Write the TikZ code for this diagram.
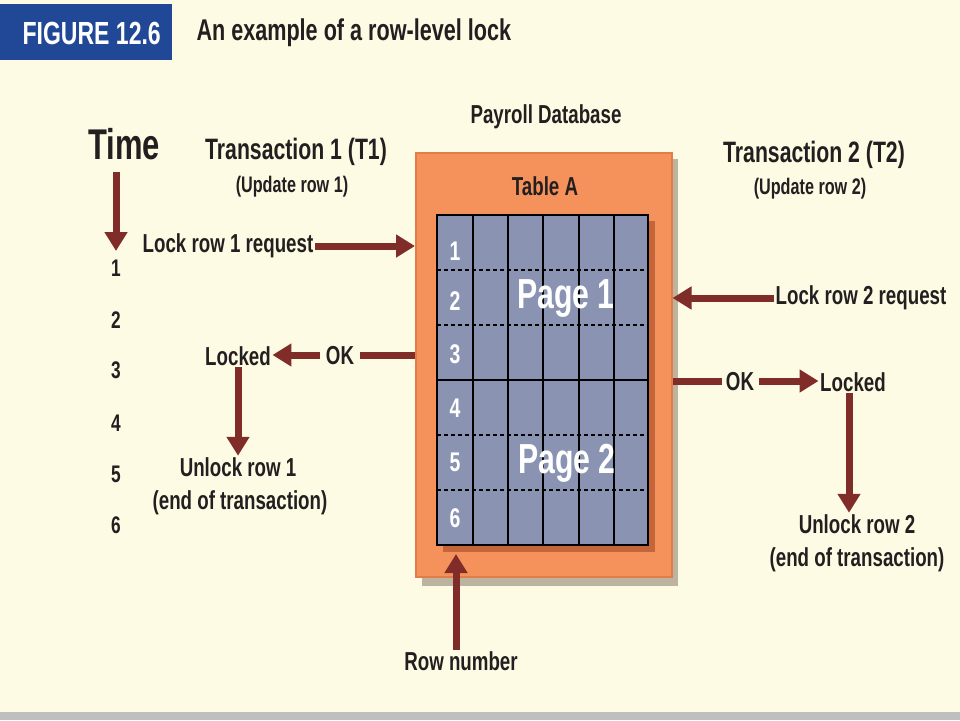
\documentclass[tikz,border=0pt]{standalone}
\usepackage{fontspec}
\setmainfont{Liberation Sans}[FakeStretch=0.72]
\usetikzlibrary{arrows.meta}
\definecolor{cream}{RGB}{254,251,228}
\definecolor{ink}{RGB}{35,31,32}
\definecolor{arrowred}{RGB}{128,44,40}
\definecolor{figblue}{RGB}{32,72,150}
\definecolor{dborange}{RGB}{245,146,92}
\definecolor{dbedge}{RGB}{228,124,72}
\definecolor{dbshadow}{RGB}{188,180,158}
\definecolor{gridfill}{RGB}{138,148,178}
\definecolor{gridshadow}{RGB}{196,102,58}
\tikzset{
  txt/.style={font=\bfseries\fontsize{26}{28}\selectfont, text=ink, inner sep=1.5pt},
  small/.style={font=\bfseries\fontsize{22.5}{24}\selectfont, text=ink, inner sep=1.5pt},
  tnum/.style={font=\bfseries\fontsize{24}{26}\selectfont, text=ink, inner sep=1pt},
  rnum/.style={font=\bfseries\fontsize{27}{29}\selectfont, text=white, inner sep=1pt},
  pagelbl/.style={font=\bfseries\fontsize{42}{45}\selectfont, text=white, inner sep=1pt},
  arr/.style={draw=arrowred, line width=7pt, -{Triangle[length=19pt,width=22pt]}},
  bar/.style={draw=arrowred, line width=7pt},
  dotline/.style={draw=black, line width=2pt, dash pattern=on 4pt off 3pt},
}
\begin{document}
\begin{tikzpicture}[x=1pt,y=-1pt]
\useasboundingbox (0,0) rectangle (960,720);
\fill[cream] (0,0) rectangle (960,720);
\fill[black!25] (0,712) rectangle (960,720);
% title band
\fill[figblue] (0,4) rectangle (172,60);
\node[font=\bfseries\fontsize{32}{34}\selectfont, text=white, anchor=west] (fig) at (19,33) {FIGURE 12.6};
\node[font=\bfseries\fontsize{30}{32}\selectfont, text=ink, anchor=west] (title) at (193,33) {An example of a row-level lock};
% database box
\fill[dbshadow] (422,159) rectangle (678,586);
\node[draw=dbedge, line width=1.5pt, fill=dborange, minimum width=256pt, minimum height=424pt, inner sep=0pt, anchor=north west] (db) at (415,152) {};
\node[txt] (payroll) at (546,117) {Payroll Database};
\node[txt] (tablea) at (545,186) {Table A};
% grid
\fill[gridshadow] (443,221) rectangle (655,552);
\fill[gridfill] (437,215) rectangle (648,545);
\foreach \x in {473,508,543,579,614} \draw[black, line width=1.6pt] (\x,215) -- (\x,545);
\foreach \y in {270,325,435,490} \draw[dotline] (437,\y) -- (648,\y);
\draw[black, line width=2.5pt] (437,380) -- (648,380);
\draw[black, line width=2.5pt] (437,215) rectangle (648,545);
\node[rnum] (r1) at (455,251) {1};
\node[rnum] (r2) at (455,301) {2};
\node[rnum] (r3) at (455,354) {3};
\node[rnum] (r4) at (455,408) {4};
\node[rnum] (r5) at (455,462) {5};
\node[rnum] (r6) at (455,518) {6};
\node[pagelbl] (p1) at (566,298) {Page 1};
\node[pagelbl] (p2) at (567,463) {Page 2};
% time axis
\node[font=\bfseries\fontsize{43}{46}\selectfont, text=ink, inner sep=1pt] (time) at (124,144) {Time};
\coordinate (tend) at (116,251);
\draw[arr] (116,172) -- (tend);
\node[tnum] (t1) at (116,268) {1};
\node[tnum] (t2) at (116,320) {2};
\node[tnum] (t3) at (116,370) {3};
\node[tnum] (t4) at (116,423) {4};
\node[tnum] (t5) at (116,474) {5};
\node[tnum] (t6) at (116,525) {6};
% transaction 1
\node[txt, font=\bfseries\fontsize{29.5}{31}\selectfont] (tr1) at (296,152) {Transaction 1 (T1)};
\node[small] (up1) at (292,187) {(Update row 1)};
\node[txt, anchor=west] (lr1) at (141,246) {Lock row 1 request};
\draw[arr] (lr1.east) -- (lr1.east -| db.west);
\node[txt] (ok1) at (340,356) {OK};
\node[txt] (locked1) at (238,356) {Locked};
\draw[bar, shorten <=4pt] (ok1.east |- 0,355) -- (db.west |- 0,355);
\draw[arr, shorten <=4pt] (ok1.west |- 0,355) -- (locked1.east |- 0,355);
\node[txt] (unlock1) at (238,467) {Unlock row 1};
\node[txt] (end1) at (240,503) {(end of transaction)};
\draw[arr] (locked1.south) -- (unlock1.north);
% transaction 2
\node[txt, font=\bfseries\fontsize{29.5}{31}\selectfont] (tr2) at (814,155) {Transaction 2 (T2)};
\node[small] (up2) at (810,189) {(Update row 2)};
\node[txt, anchor=west] (lr2) at (774,298) {Lock row 2 request};
\draw[arr] (lr2.west) -- (lr2.west -| db.east);
\node[txt] (ok2) at (740,382) {OK};
\node[txt] (locked2) at (853,382) {Locked};
\draw[bar, shorten >=2pt] (db.east |- 0,381) -- (ok2.west |- 0,381);
\draw[arr, shorten <=3pt] (ok2.east |- 0,381) -- (locked2.west |- 0,381);
\node[txt] (unlock2) at (857,524) {Unlock row 2};
\node[txt] (end2) at (857,560) {(end of transaction)};
\draw[arr] (locked2.south -| 849,0) -- (unlock2.north -| 849,0);
% row number
\node[txt] (rownum) at (461,661) {Row number};
\coordinate (rntip) at (456,554);
\draw[arr] (rownum.north -| rntip) -- (rntip);
\end{tikzpicture}
\end{document}
